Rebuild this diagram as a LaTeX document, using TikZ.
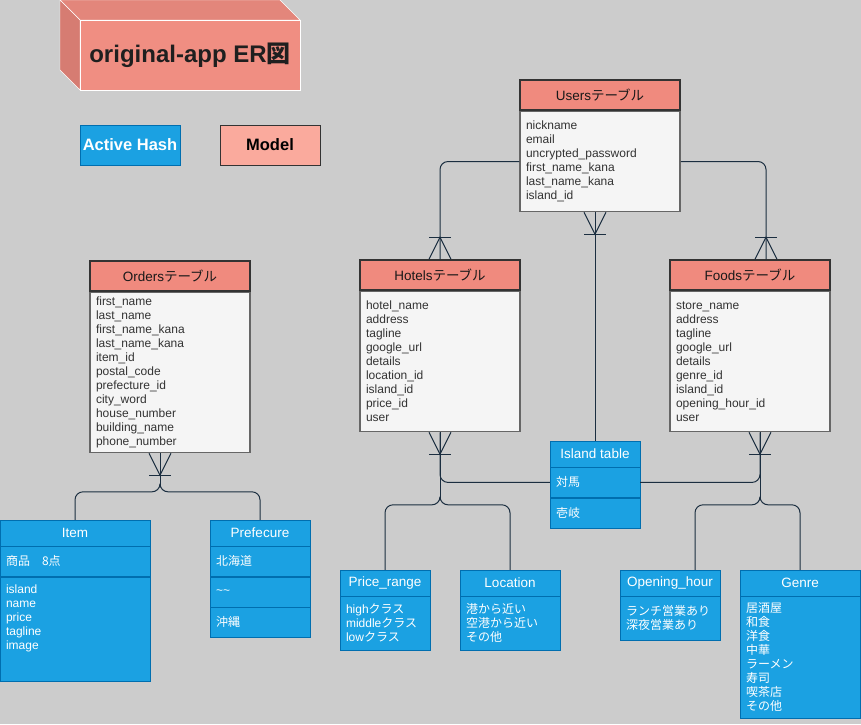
\documentclass[tikz,border=0pt]{standalone}
\usepackage{fontspec}
\setmainfont{Liberation Sans}
\newfontfamily\jp{Noto Sans CJK JP}
\usepackage{xcolor}
\usepackage{tikz}
\usetikzlibrary{calc}

\definecolor{bgGray}{HTML}{CCCCCC}
\definecolor{headRed}{HTML}{F08A7E}
\definecolor{cubeFront}{HTML}{F08E82}
\definecolor{cubeTop}{HTML}{E3867B}
\definecolor{cubeSide}{HTML}{D67C72}
\definecolor{modelPink}{HTML}{FAAA9D}
\definecolor{hashBlue}{HTML}{1BA1E2}
\definecolor{hashEdge}{HTML}{006EAF}
\definecolor{rowGray}{HTML}{F5F5F5}
\definecolor{edgeDark}{HTML}{333333}
\definecolor{edgeGray}{HTML}{666666}
\definecolor{linkNavy}{HTML}{1B2E40}

\tikzset{
	tablehead/.style = {draw = edgeDark, line width = 1.5pt, fill = headRed, minimum width = 160pt, minimum height = 30pt, inner sep = 0pt, text = black!90, font = \fontsize{13.5}{16}\selectfont},
	tablebody/.style = {draw = edgeGray, line width = 1.5pt, fill = rowGray, anchor = north, text width = 148pt, inner xsep = 6pt, inner ysep = 0pt, minimum height = #1, align = left, text = edgeDark, font = \fontsize{12}{14}\selectfont},
	hashhead/.style = {draw = hashEdge, fill = hashBlue, minimum width = #1, minimum height = 26pt, inner sep = 0pt, text = white, font = \fontsize{13.5}{16}\selectfont},
	hashrow/.style = {draw = hashEdge, fill = hashBlue, anchor = north, text width = #1, inner xsep = 6pt, inner ysep = 0pt, minimum height = 30pt, align = left, text = white, font = \fontsize{12}{14}\selectfont},
	link/.style = {draw = linkNavy, line width = 1pt, rounded corners = 8pt},
	crowline/.style = {draw = linkNavy, line width = 1pt}
}

\begin{document}
\begin{tikzpicture}[x = 1pt, y = -1pt]
	\fill[bgGray, use as bounding box] (0,0) rectangle (861,724);
	% title block
	\filldraw[fill = cubeTop, draw = white] (60,0) -- (280,0) -- (300,20) -- (80,20) -- cycle;
	\filldraw[fill = cubeSide, draw = white] (60,0) -- (80,20) -- (80,90) -- (60,70) -- cycle;
	\filldraw[fill = cubeFront, draw = white] (80,20) rectangle (300,90);
	\node[text = black!88, font = \bfseries\fontsize{24}{28}\selectfont] (title) at (190,55) {original-app ER{\jp 図}};
	% legend
	\node[draw = hashEdge, fill = hashBlue, text = white, minimum width = 100pt, minimum height = 40pt, inner sep = 0pt, font = \bfseries\fontsize{16.5}{20}\selectfont] (activeHash) at (130,145) {Active Hash};
	\node[draw = edgeDark, fill = modelPink, minimum width = 100pt, minimum height = 40pt, inner sep = 0pt, font = \bfseries\fontsize{16.5}{20}\selectfont] (model) at (270,145) {Model};

	% model tables
	\node[tablehead] (usersHead) at (600,95) {Users{\jp テーブル}};
	\node[tablebody = 100pt] (usersBody) at (usersHead.south) {nickname\\email\\uncrypted\_password\\first\_name\_kana\\last\_name\_kana\\island\_id};
	\node[tablehead] (ordersHead) at (170,276) {Orders{\jp テーブル}};
	\node[tablebody = 160pt] (ordersBody) at (ordersHead.south) {first\_name\\last\_name\\first\_name\_kana\\last\_name\_kana\\item\_id\\postal\_code\\prefecture\_id\\city\_word\\house\_number\\building\_name\\phone\_number};
	\node[tablehead] (hotelsHead) at (440,275) {Hotels{\jp テーブル}};
	\node[tablebody = 140pt] (hotelsBody) at (hotelsHead.south) {hotel\_name\\address\\tagline\\google\_url\\details\\location\_id\\island\_id\\price\_id\\user};
	\node[tablehead] (foodsHead) at (750,275) {Foods{\jp テーブル}};
	\node[tablebody = 140pt] (foodsBody) at (foodsHead.south) {store\_name\\address\\tagline\\google\_url\\details\\genre\_id\\island\_id\\opening\_hour\_id\\user};

	% active hash tables
	\node[hashhead = 90pt] (islandHead) at (595,454) {Island table};
	\node[hashrow = 78pt] (islandRow1) at (islandHead.south) {\jp 対馬};
	\node[hashrow = 78pt] (islandRow2) at (islandRow1.south) {\jp 壱岐};
	\node[hashhead = 150pt] (itemHead) at (75,533) {Item};
	\node[hashrow = 138pt] (itemRow1) at (itemHead.south) {\jp 商品　8点};
	\node[hashrow = 138pt, minimum height = 104pt, label = {[anchor = north west, align = left, inner sep = 6pt, yshift = -2pt, text = white, font = \fontsize{12}{14}\selectfont]north west:island\\name\\price\\tagline\\image}] (itemRow2) at (itemRow1.south) {};
	\node[hashhead = 100pt] (prefHead) at (260,533) {Prefecure};
	\node[hashrow = 88pt] (prefRow1) at (prefHead.south) {\jp 北海道};
	\node[hashrow = 88pt] (prefRow2) at (prefRow1.south) {\textasciitilde\textasciitilde};
	\node[hashrow = 88pt] (prefRow3) at (prefRow2.south) {\jp 沖縄};
	\node[hashhead = 90pt] (priceHead) at (385,583) {Price\_range};
	\node[hashrow = 78pt, minimum height = 54pt] (priceRows) at (priceHead.south) {high{\jp クラス}\\middle{\jp クラス}\\low{\jp クラス}};
	\node[hashhead = 100pt] (locationHead) at (510,583) {Location};
	\node[hashrow = 88pt, minimum height = 54pt] (locationRows) at (locationHead.south) {\jp 港から近い\\空港から近い\\その他};
	\node[hashhead = 100pt] (openingHead) at (670,583) {Opening\_hour};
	\node[hashrow = 88pt, minimum height = 44pt] (openingRows) at (openingHead.south) {\jp ランチ営業あり\\深夜営業あり};
	\node[hashhead = 120pt] (genreHead) at (800,583) {Genre};
	\node[hashrow = 108pt, minimum height = 122pt] (genreRows) at (genreHead.south) {\jp 居酒屋\\和食\\洋食\\中華\\ラーメン\\寿司\\喫茶店\\その他};

	% connectors
	\coordinate (hotelsTop) at (hotelsHead.north);
	\coordinate (foodsTop) at ($(foodsHead.north)+(16,0)$);
	\coordinate (usersFoot) at (usersBody.south -| islandHead.north);
	\coordinate (hotelsFoot) at (hotelsBody.south);
	\coordinate (foodsFoot) at ($(foodsBody.south)+(10,0)$);
	\coordinate (ordersFoot) at ($(ordersBody.south)+(-10,0)$);
	\coordinate (hotelsFork) at ($(hotelsFoot)+(0,67)$);
	\coordinate (foodsFork) at ($(foodsFoot)+(0,67)$);
	\coordinate (ordersFork) at ($(ordersFoot)+(0,33)$);
	\draw[link] (usersBody.west) -| (hotelsTop);
	\draw[link] (usersBody.east) -| (foodsTop);
	\draw[link] (usersFoot) -- (islandHead.north);
	\draw[link] (hotelsFoot) |- (islandRow1.west);
	\draw[link] (foodsFoot) |- (islandRow1.east);
	\draw[link] (hotelsFoot) -- (hotelsFork);
	\draw[link] (foodsFoot) -- (foodsFork);
	\draw[link] (ordersFoot) -- (ordersFork);
	\foreach \fork/\target/\dx/\dy in {hotelsFork/priceHead/0/65, hotelsFork/locationHead/0/65, foodsFork/openingHead/25/65, foodsFork/genreHead/0/65, ordersFork/itemHead/0/28, ordersFork/prefHead/0/28}
		\draw[link] (\fork) |- ($(\target.north)+(\dx,-\dy)$) -- ($(\target.north)+(\dx,0)$);
	% one-and-many ends
	\foreach \foot/\s in {usersFoot/1, hotelsFoot/1, foodsFoot/1, ordersFoot/1, hotelsTop/-1, foodsTop/-1}{
		\draw[crowline] ($(\foot)+(-11,0)$) -- ($(\foot)+(0,22*\s)$) -- ($(\foot)+(11,0)$);
		\draw[crowline] ($(\foot)+(-11,22*\s)$) -- ($(\foot)+(11,22*\s)$);}
\end{tikzpicture}
\end{document}
